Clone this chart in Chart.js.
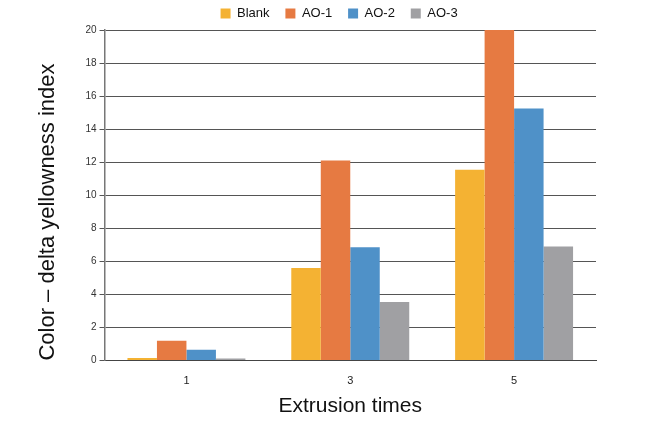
<!DOCTYPE html>
<html>
<head>
<meta charset="utf-8">
<script src="https://cdn.jsdelivr.net/npm/chart.js@4.4.1/dist/chart.umd.min.js"></script>
<style>
  html, body { margin: 0; padding: 0; background: #fff; }
  #wrap { width: 653px; height: 423px; }
</style>
</head>
<body>
<div id="wrap"><canvas id="yellownessChart"></canvas></div>
<script>
const categories = ['1', '3', '5'];
const blankValues = [0.15, 5.6, 11.55];
const ao1Values = [1.2, 12.1, 20];
const ao2Values = [0.65, 6.85, 15.25];
const ao3Values = [0.12, 3.55, 6.9];
const yTicks = [0, 2, 4, 6, 8, 10, 12, 14, 16, 18, 20];

Chart.defaults.font.family = '"Liberation Sans", Arial, sans-serif';
Chart.defaults.color = '#222';

// nudge the legend sideways so it sits where the original one does
const legendShift = {
  id: 'legendShift',
  afterLayout(chart, args, opts) {
    const lg = chart.legend;
    if (!lg) return;
    lg.left += opts.dx;
    lg.right += opts.dx;
  }
};

const data = {
  labels: categories,
  datasets: [
    { label: 'Blank', data: blankValues, backgroundColor: '#F4B233' },
    { label: 'AO-1', data: ao1Values, backgroundColor: '#E67A42' },
    { label: 'AO-2', data: ao2Values, backgroundColor: '#4F91C8' },
    { label: 'AO-3', data: ao3Values, backgroundColor: '#A0A0A3' }
  ]
};

const config = {
  type: 'bar',
  data: data,
  plugins: [legendShift],
  options: {
    responsive: true,
    maintainAspectRatio: false,
    animation: false,
    datasets: {
      bar: { categoryPercentage: 0.72, barPercentage: 1.0 }
    },
    layout: { padding: { left: 35, right: 57, top: 2, bottom: 4 } },
    plugins: {
      legendShift: { dx: 29 },
      legend: {
        position: 'top',
        labels: {
          boxWidth: 10,
          boxHeight: 10,
          padding: 5,
          font: { size: 13 },
          color: '#111',
          generateLabels: chart => {
            const items = Chart.defaults.plugins.legend.labels.generateLabels(chart);
            items.forEach(it => { it.text = it.text + '   '; });
            return items;
          }
        }
      },
      tooltip: { enabled: false }
    },
    scales: {
      x: {
        grid: { display: false, drawTicks: false },
        border: { display: true, color: '#444', width: 1 },
        ticks: { font: { size: 11 }, color: '#222', padding: 14 },
        title: {
          display: true,
          text: 'Extrusion times',
          font: { size: 21 },
          color: '#111',
          padding: { top: -8, bottom: 0 }
        }
      },
      y: {
        min: 0,
        max: 20,
        afterBuildTicks: axis => { axis.ticks = yTicks.map(v => ({ value: v })); },
        grid: { color: '#555', lineWidth: 1, tickLength: 5 },
        border: { display: true, color: '#777', width: 1.5 },
        ticks: { font: { size: 10 }, color: '#333', padding: 3 },
        title: {
          display: true,
          align: 'start',
          text: 'Color \u2013 delta yellowness index',
          font: { size: 22 },
          color: '#111',
          padding: { top: 0, bottom: 21 }
        }
      }
    }
  }
};

new Chart('yellownessChart', config);
</script>
</body>
</html>
